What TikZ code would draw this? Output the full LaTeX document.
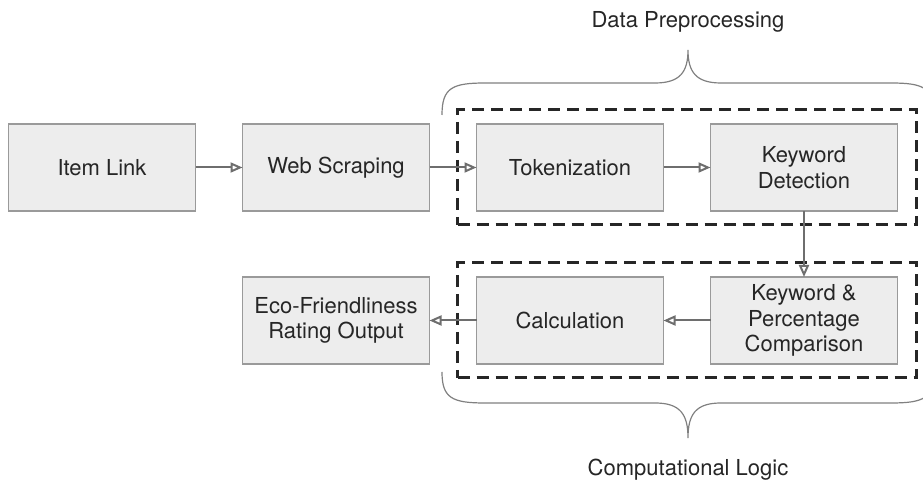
\documentclass[tikz,border=0pt]{standalone}
\usepackage{fontspec}
\setmainfont{TeX Gyre Heros}
\usetikzlibrary{positioning,fit,arrows.meta}
\definecolor{boxfill}{HTML}{EDEDED}
\definecolor{boxline}{HTML}{9A9A9A}
\definecolor{arrline}{HTML}{6E6E6E}
\definecolor{txt}{HTML}{262626}

\begin{document}
\begin{tikzpicture}[x=0.5pt,y=-0.5pt,
        node distance=33pt and 23.5pt,
        blk/.style={draw=boxline, line width=0.6pt, fill=boxfill, minimum width=93.5pt,
          minimum height=43.5pt, inner sep=0pt, outer sep=0pt, align=center, text=txt,
          font=\fontsize{11}{12.8}\selectfont},
        grp/.style={draw=black!85, line width=1.5pt, dash pattern=on 6pt off 3.5pt,
          inner xsep=9.5pt, inner ysep=7pt},
        flow/.style={draw=arrline, line width=1pt, -{Triangle[open,length=6pt,width=5pt]}},
        brc/.style={draw=gray, line width=0.6pt},
        lbl/.style={text=txt, font=\fontsize{11}{13}\selectfont}]
      \useasboundingbox (0,0) rectangle (923,485);

      \node[blk] (link) at (102,167.5) {Item Link};
      \node[blk, right=of link] (scrap) {Web Scraping};
      \node[blk, right=of scrap] (tok) {Tokenization};
      \node[blk, right=of tok] (kwd) {Keyword\\Detection};
      \node[blk, below=of kwd] (cmp) {Keyword \&\\Percentage\\Comparison};
      \node[blk, left=of cmp] (calc) {Calculation};
      \node[blk, left=of calc] (out) {Eco-Friendliness\\Rating Output};

      \node[grp, fit=(tok)(kwd)] (pre) {};
      \node[grp, fit=(calc)(cmp)] (logic) {};

      % braces
      \draw[brc] (442,115) .. controls (442,88) and (452,83) .. (485,83) -- (655,83)
        .. controls (680,83) and (688,72) .. (688,50)
        .. controls (688,72) and (696,83) .. (721,83) -- (891,83)
        .. controls (924,83) and (934,88) .. (934,115);
      \draw[brc] (442,372) .. controls (442,398) and (452,403) .. (485,403) -- (655,403)
        .. controls (680,403) and (688,414) .. (688,438)
        .. controls (688,414) and (696,403) .. (721,403) -- (891,403)
        .. controls (924,403) and (934,398) .. (934,372);
      \node[lbl] (dp) at (688,22) {Data Preprocessing};
      \node[lbl] (cl) at (688,470) {Computational Logic};

      \draw[flow] (link) -- (scrap);
      \draw[flow] (scrap) -- (tok);
      \draw[flow] (tok) -- (kwd);
      \draw[flow] (kwd) -- (cmp);
      \draw[flow] (cmp) -- (calc);
      \draw[flow] (calc) -- (out);
\end{tikzpicture}
\end{document}
